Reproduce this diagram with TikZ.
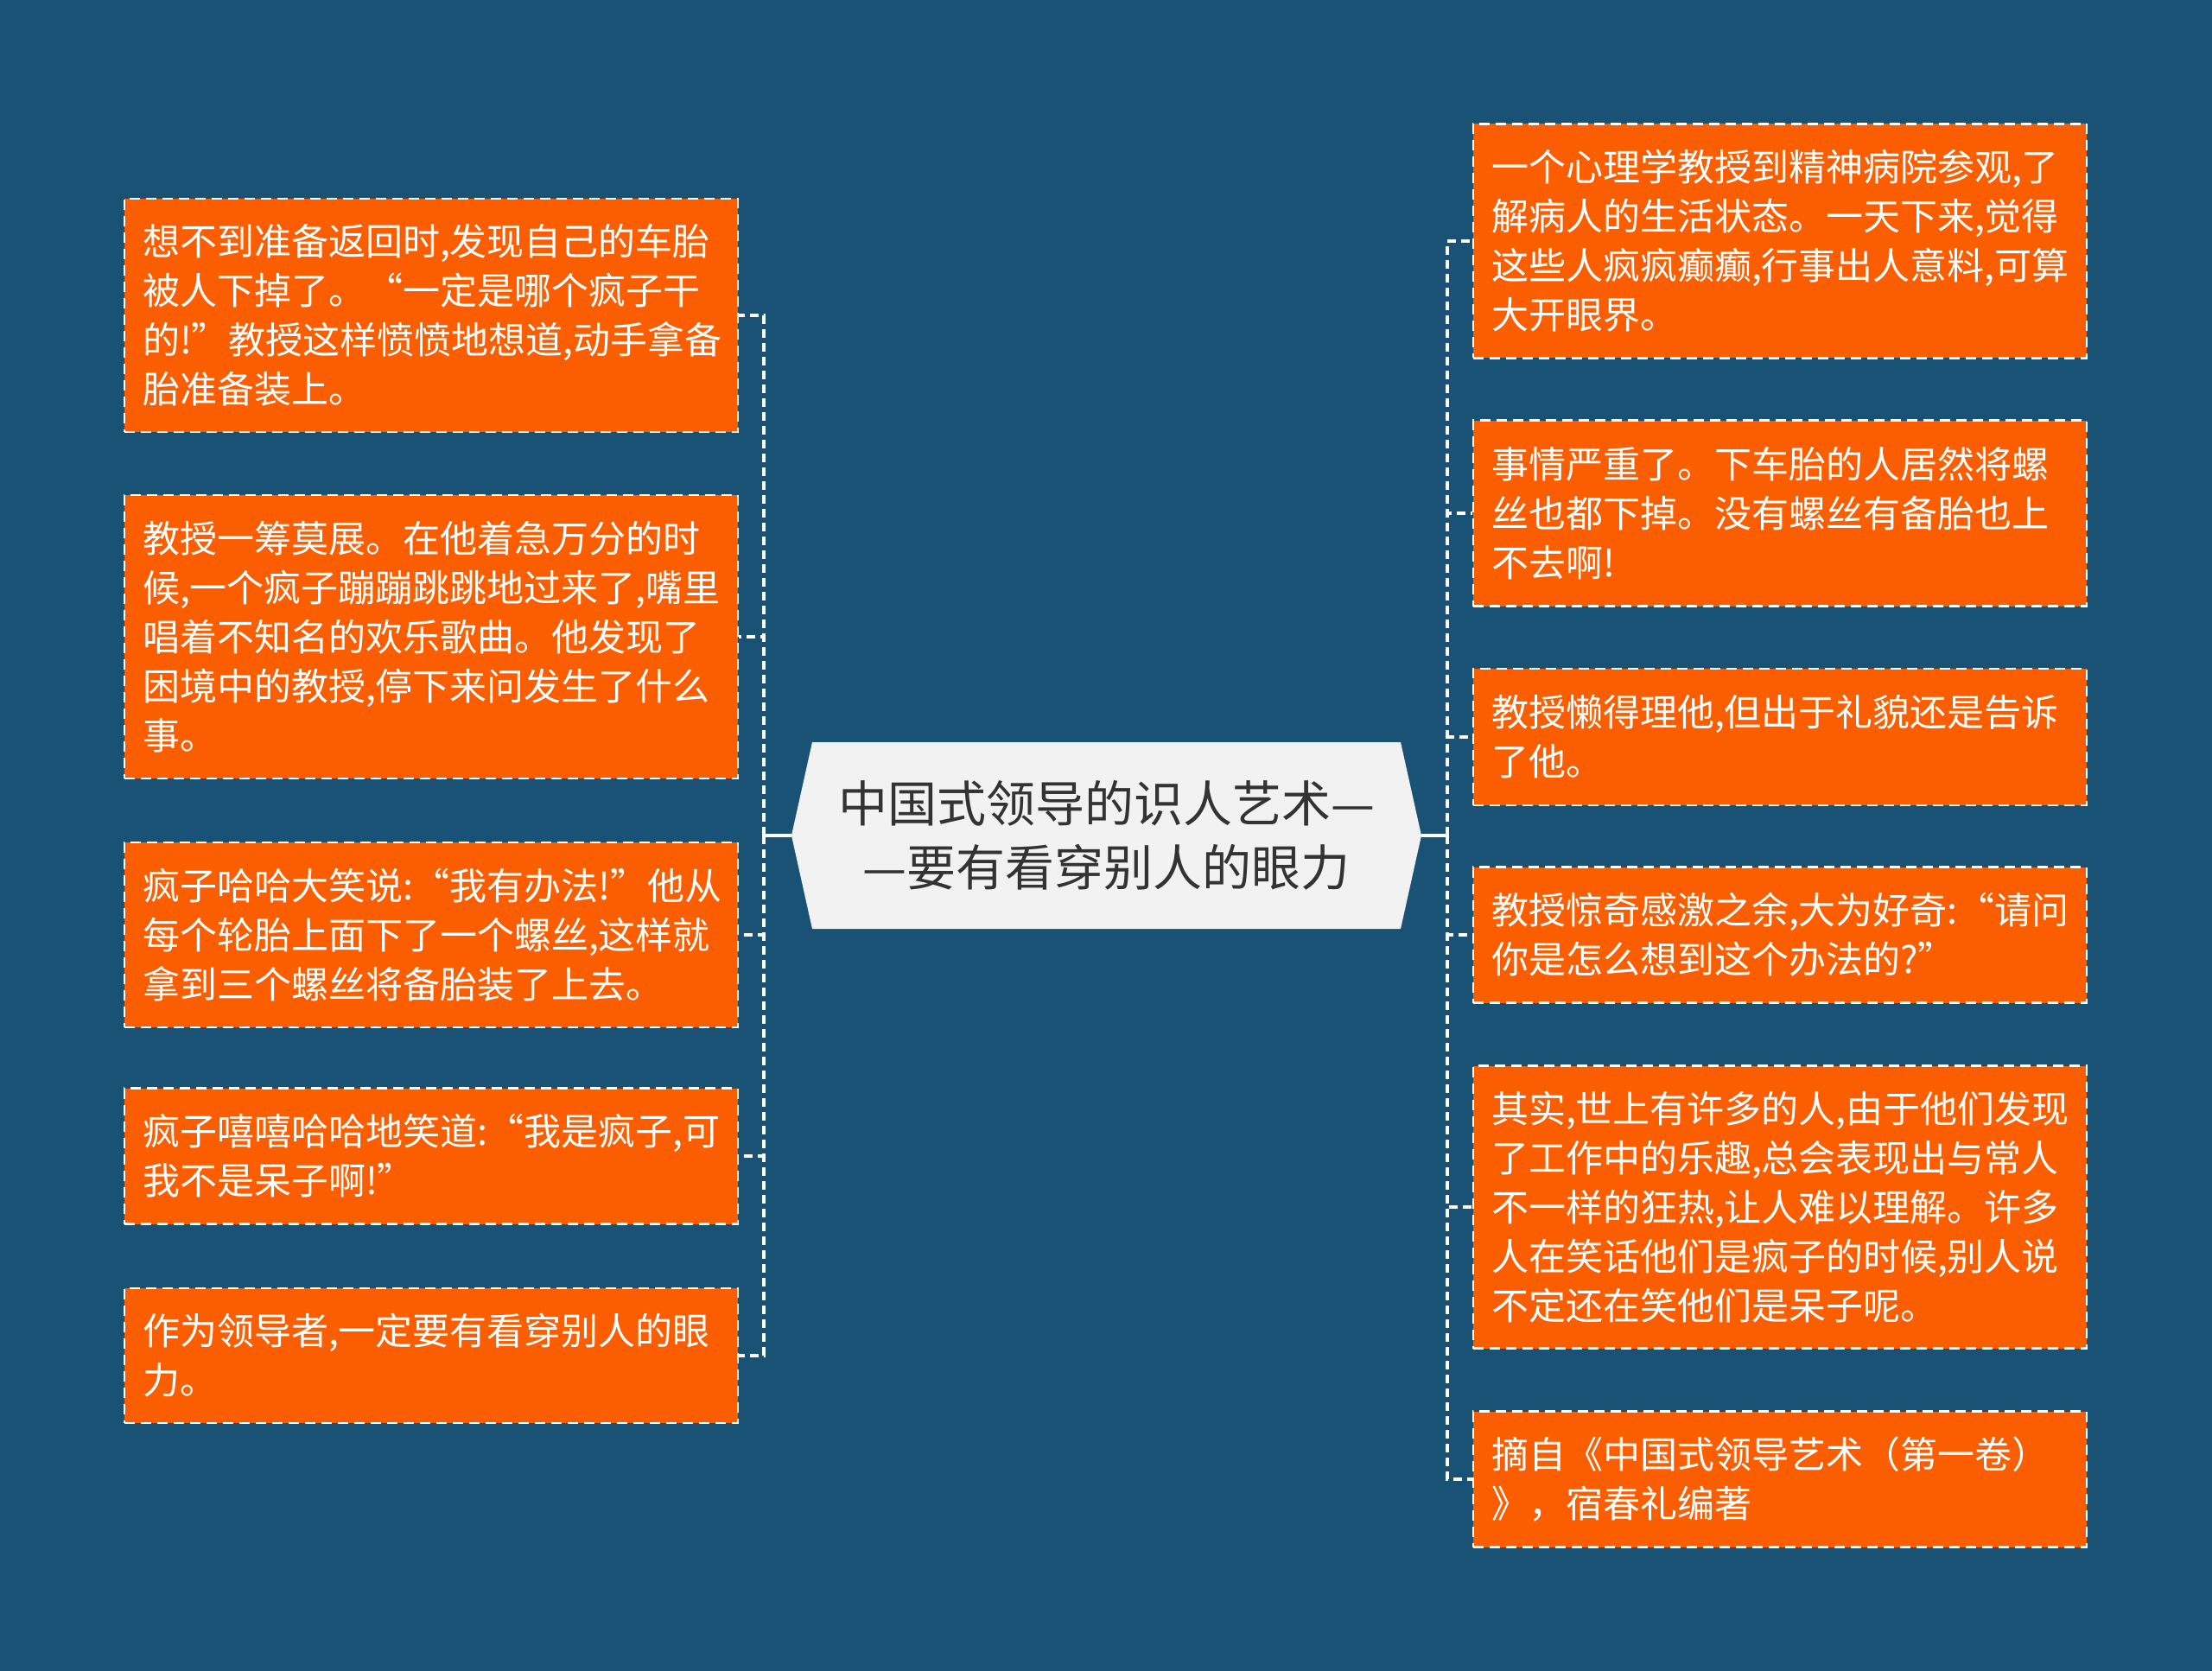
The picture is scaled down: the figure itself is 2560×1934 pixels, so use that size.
\documentclass[tikz,border=0pt]{standalone}
\usepackage{fontspec}
\setmainfont{Noto Sans CJK SC}
\usepackage{xcolor}

\definecolor{bgblue}{HTML}{1A5276}
\definecolor{boxorange}{HTML}{FA5E00}
\definecolor{rootfill}{HTML}{F2F2F2}
\definecolor{titlegray}{HTML}{333333}

\tikzset{
  leaf/.style={fill=boxorange, draw=white, line width=2.5pt, dash pattern=on 12pt off 7pt,
    text=white, font=\fontsize{43}{57}\selectfont, text width=668pt, align=left,
    inner xsep=21pt, inner ysep=0pt, minimum height=#1},
  roottext/.style={text=titlegray, font=\fontsize{57}{74}\selectfont, align=center,
    minimum width=729pt, minimum height=216pt, inner sep=0pt},
  stem/.style={draw=white, line width=4pt},
  link/.style={draw=white, line width=4pt, dash pattern=on 10pt off 6pt}
}

\begin{document}
\begin{tikzpicture}[x=1pt,y=-1pt]
\fill[bgblue] (0,0) rectangle (2560,1934);

% root
\fill[rootfill] (916,967) -- (940,859) -- (1621,859) -- (1645,967) -- (1621,1075) -- (940,1075) -- cycle;
\node[roottext] (root) at (1280.5,967) {中国式领导的识人艺术—\\—要有看穿别人的眼力};

% left side
\node[leaf=270pt] (l1) at (499,365) {想不到准备返回时,发现自己的车胎\\被人下掉了。“一定是哪个疯子干\\的!”教授这样愤愤地想道,动手拿备\\胎准备装上。};
\node[leaf=328pt] (l2) at (499,737) {教授一筹莫展。在他着急万分的时\\候,一个疯子蹦蹦跳跳地过来了,嘴里\\唱着不知名的欢乐歌曲。他发现了\\困境中的教授,停下来问发生了什么\\事。};
\node[leaf=214pt] (l3) at (499,1082) {疯子哈哈大笑说:“我有办法!”他从\\每个轮胎上面下了一个螺丝,这样就\\拿到三个螺丝将备胎装了上去。};
\node[leaf=157pt] (l4) at (499,1338) {疯子嘻嘻哈哈地笑道:“我是疯子,可\\我不是呆子啊!”};
\node[leaf=156pt] (l5) at (499,1569) {作为领导者,一定要有看穿别人的眼\\力。};

% right side
\node[leaf=271pt] (r1) at (2060,279) {一个心理学教授到精神病院参观,了\\解病人的生活状态。一天下来,觉得\\这些人疯疯癫癫,行事出人意料,可算\\大开眼界。};
\node[leaf=215pt] (r2) at (2060,594) {事情严重了。下车胎的人居然将螺\\丝也都下掉。没有螺丝有备胎也上\\不去啊!};
\node[leaf=158pt] (r3) at (2060,853) {教授懒得理他,但出于礼貌还是告诉\\了他。};
\node[leaf=157pt] (r4) at (2060,1082) {教授惊奇感激之余,大为好奇:“请问\\你是怎么想到这个办法的?”};
\node[leaf=327pt] (r5) at (2060,1397) {其实,世上有许多的人,由于他们发现\\了工作中的乐趣,总会表现出与常人\\不一样的狂热,让人难以理解。许多\\人在笑话他们是疯子的时候,别人说\\不定还在笑他们是呆子呢。};
\node[leaf=157pt] (r6) at (2060,1712) {摘自《中国式领导艺术（第一卷）\\》，宿春礼编著};

% connectors
\coordinate (ltrunk) at ([xshift=-32pt]root.west);
\coordinate (rtrunk) at ([xshift=30pt]root.east);
\draw[stem] (root.west) -- (ltrunk);
\draw[stem] (root.east) -- (rtrunk);
\foreach \b in {l1,l2,l3,l4,l5}
  \draw[link] (ltrunk) |- (\b.east);
\foreach \b in {r1,r2,r3,r4,r5,r6}
  \draw[link] (rtrunk) |- (\b.west);
\end{tikzpicture}
\end{document}
